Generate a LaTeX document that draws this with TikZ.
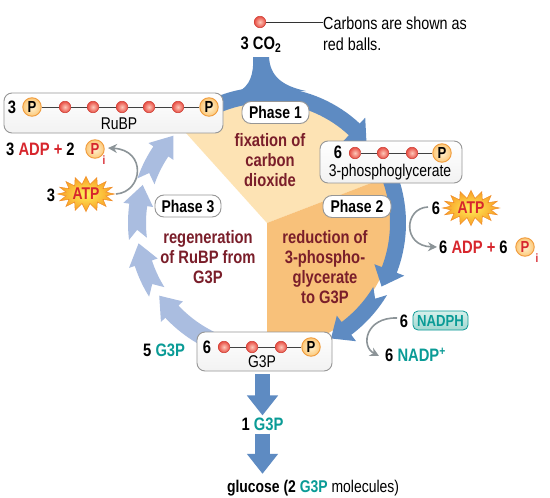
\documentclass[tikz,border=0pt]{standalone}
\usepackage{fontspec}
\setmainfont{Liberation Sans}[FakeStretch=0.82]
\usetikzlibrary{shapes.symbols,arrows.meta,calc}

\definecolor{darkblue}{RGB}{94,139,194}
\definecolor{lightblue}{RGB}{170,189,224}
\definecolor{lorange}{RGB}{253,227,180}
\definecolor{dorange}{RGB}{248,193,122}
\definecolor{maroon}{RGB}{122,30,42}
\definecolor{atpred}{RGB}{215,38,45}
\definecolor{tealc}{RGB}{10,155,150}
\definecolor{boxgray}{RGB}{150,150,150}
\definecolor{arrgray}{RGB}{140,148,152}
\definecolor{ballin}{RGB}{253,200,185}
\definecolor{ballout}{RGB}{232,78,68}
\definecolor{ballrim}{RGB}{205,60,50}
\definecolor{pin}{RGB}{255,242,210}
\definecolor{pout}{RGB}{252,200,120}
\definecolor{prim}{RGB}{240,155,60}
\definecolor{starin}{RGB}{255,240,90}
\definecolor{starout}{RGB}{248,155,35}
\definecolor{starrim}{RGB}{240,140,40}
\definecolor{nadin}{RGB}{215,240,235}
\definecolor{nadout}{RGB}{160,215,208}

% #1 colour, #2 tail angle, #3 tip angle, #4 radius, #5 half width, #6 head half width, #7 head length (deg), #8 notch (deg)
\newcommand\arcarrow[8]{%
  \pgfmathsetmacro\aaHB{#3+#7}%
  \pgfmathsetmacro\aaRO{#4+#5}%
  \pgfmathsetmacro\aaRI{#4-#5}%
  \pgfmathsetmacro\aaHO{#4+#6}%
  \pgfmathsetmacro\aaHI{#4-#6}%
  \pgfmathsetmacro\aaNT{#2-#8}%
  \fill[#1] plot[domain=#2:\aaHB, samples=30] ({\cx+\aaRO*cos(\x)},{\cy-\aaRO*sin(\x)})
    -- ({\cx+\aaHO*cos(\aaHB)},{\cy-\aaHO*sin(\aaHB)})
    -- ({\cx+#4*cos(#3)},{\cy-#4*sin(#3)})
    -- ({\cx+\aaHI*cos(\aaHB)},{\cy-\aaHI*sin(\aaHB)})
    -- plot[domain=\aaHB:#2, samples=30] ({\cx+\aaRI*cos(\x)},{\cy-\aaRI*sin(\x)})
    -- ({\cx+#4*cos(\aaNT)},{\cy-#4*sin(\aaNT)}) -- cycle;%
}

\begin{document}
\begin{tikzpicture}[x=1pt,y=-1pt,
  txt/.style={font=\fontsize{17}{21}\selectfont, inner sep=0pt},
  btxt/.style={font=\bfseries\fontsize{18}{21}\selectfont, inner sep=0pt},
  phtxt/.style={font=\bfseries\fontsize{18}{20}\selectfont, text=maroon, align=center, inner sep=0pt},
  molbox/.style={draw=boxgray, line width=0.9pt, rounded corners=8pt, top color=white, bottom color=black!5, inner sep=0pt},
  phasebox/.style={draw=boxgray, line width=0.9pt, rounded corners=9pt, fill=white, inner sep=0pt, minimum height=22pt, font=\bfseries\fontsize{17}{17}\selectfont},
  redball/.style={circle, minimum size=11.5pt, inner sep=0pt, inner color=ballin, outer color=ballout, draw=ballrim, line width=0.5pt},
  pcirc/.style={circle, minimum size=18.5pt, inner sep=0pt, inner color=pin, outer color=pout, draw=prim, line width=0.9pt, font=\bfseries\fontsize{16}{16}\selectfont},
  chainln/.style={draw=black!75, line width=0.9pt},
  atpstar/.style={starburst, starburst points=16, starburst point height=8pt, random starburst=0, inner color=starin, outer color=starout, draw=starrim, line width=0.5pt, font=\bfseries\fontsize{17}{17}\selectfont, text=atpred, inner sep=1pt},
  nadbox/.style={draw=tealc, line width=0.8pt, rounded corners=5pt, top color=nadin, bottom color=nadout, text=tealc, inner sep=0pt, minimum width=55pt, minimum height=19pt, font=\bfseries\fontsize{16}{16}\selectfont},
  grayarr/.style={draw=arrgray, line width=1.6pt, -{Stealth[length=9pt,width=9pt]}},
  downarr/.style={draw=darkblue, line width=15pt, -{Triangle[length=20pt,width=30pt]}},
]
\useasboundingbox (0,0) rectangle (550,498);
\fill[white] (0,0) rectangle (550,498);
\def\cx{267}\def\cy{223}

% sectors
\fill[lorange] (\cx,\cy) -- plot[domain=21:132, samples=40] ({\cx+126*cos(\x)},{\cy-126*sin(\x)}) -- cycle;
\fill[dorange] (\cx,\cy) -- plot[domain=-90:21, samples=40] ({\cx+126*cos(\x)},{\cy-126*sin(\x)}) -- cycle;

% cycle arrows
\arcarrow{lightblue}{247}{214}{130}{9}{15}{9}{4}
\arcarrow{lightblue}{212}{189}{130}{9}{15}{9}{4}
\arcarrow{lightblue}{187}{163}{130}{9}{15}{9}{4}
\arcarrow{lightblue}{161}{137}{128}{9}{15}{9}{4}
\arcarrow{darkblue}{118}{39}{128}{8}{16}{8}{0}
\arcarrow{darkblue}{22}{-29}{131}{8}{16}{8}{0}
\arcarrow{darkblue}{-31}{-61}{132}{8}{16}{8}{4}
% CO2 inflow
\fill[darkblue] (253,57) -- (269,57) .. controls (270,76) and (282,86) .. (306,91) -- (238,92) .. controls (250,86) and (254,74) .. (253,57) -- cycle;

% top legend
\node[redball] (legball) at (260,22) {};
\node[txt, anchor=west, align=left, font=\fontsize{17.5}{21}\selectfont] (legend) at (323,34) {Carbons are shown as\\red balls.};
\draw[black!80, line width=0.8pt] (legball) -- (legend.west |- legball);
\node[btxt] (co2) at (261,45) {3 CO\textsubscript{2}};

% RuBP box
\node[molbox, minimum width=219pt, minimum height=40pt] (rubpbox) at (113.5,113) {};
\node[btxt] (n3a) at (12,107) {3};
\node[pcirc] (r0) at (32,107) {P};
\foreach \i/\xx in {1/65,2/93,3/122,4/149,5/178} \node[redball] (r\i) at (\xx,107) {};
\node[pcirc] (r6) at (209,107) {P};
\foreach \a/\b in {0/1,1/2,2/3,3/4,4/5,5/6} \draw[chainln] (r\a) -- (r\b);
\node[txt] (rubplab) at (119,124) {RuBP};

% 3-phosphoglycerate box
\node[molbox, minimum width=142pt, minimum height=42pt] (pgabox) at (391,162) {};
\node[btxt] (n6a) at (338,152.5) {6};
\foreach \i/\xx in {1/355,2/383,3/412} \node[redball] (g\i) at (\xx,153) {};
\node[pcirc] (g4) at (442,153) {P};
\foreach \a/\b in {1/2,2/3,3/4} \draw[chainln] (g\a) -- (g\b);
\node[txt] (pgalab) at (390,172) {3-phosphoglycerate};

% G3P box
\node[molbox, minimum width=135pt, minimum height=39pt] (g3pbox) at (264.5,351.5) {};
\node[btxt] (n6b) at (207,347) {6};
\foreach \i/\xx in {1/224,2/252,3/281} \node[redball] (h\i) at (\xx,347) {};
\node[pcirc] (h4) at (311,347) {P};
\foreach \a/\b in {1/2,2/3,3/4} \draw[chainln] (h\a) -- (h\b);
\node[txt] (g3plab) at (262,362) {G3P};

% phase labels
\node[phasebox, minimum width=67pt] (ph1) at (275.5,112.5) {Phase 1};
\node[phasebox, minimum width=68pt] (ph2) at (357,206.5) {Phase 2};
\node[phasebox, minimum width=66pt] (ph3) at (188,206) {Phase 3};
\node[phtxt] (t1) at (270,160) {fixation of\\carbon\\dioxide};
\node[phtxt] (t3) at (208,257) {regeneration\\of RuBP from\\G3P};
\node[phtxt] (t2) at (325,267) {reduction of\\3-phospho-\\glycerate\\to G3P};

% left: ADP, ATP
\node[btxt, anchor=west] (adp3) at (6,149) {3 \textcolor{atpred}{ADP +} 2};
\node[pcirc, text=atpred] (pi3) at (95,149) {P};
\node[text=atpred, inner sep=0pt, font=\bfseries\fontsize{12}{12}\selectfont] (pi3i) at (104,160) {i};
\node[btxt] (n3b) at (51,195) {3};
\node[atpstar, minimum width=54pt, minimum height=34pt] (atp3) at (86,194) {ATP};
\coordinate (ga1s) at (116,194);
\coordinate (ga1e) at (108,148);
\draw[grayarr] (ga1s) .. controls (143,192) and (147,150) .. (ga1e);

% right: ATP, ADP
\node[btxt] (n6c) at (436,208) {6};
\node[atpstar, minimum width=50pt, minimum height=31pt] (atp6) at (471,208) {ATP};
\node[btxt, anchor=west] (adp6) at (439,247) {6 \textcolor{atpred}{ADP +} 6};
\node[pcirc, text=atpred] (pi6) at (525,247) {P};
\node[text=atpred, inner sep=0pt, font=\bfseries\fontsize{12}{12}\selectfont] (pi6i) at (537,258) {i};
\coordinate (ga2s) at (428,207);
\coordinate (ga2e) at (437,247);
\draw[grayarr] (ga2s) .. controls (404,208) and (402,246) .. (ga2e);

% NADPH
\node[btxt] (n6d) at (404,321) {6};
\node[nadbox] (nadph) at (440.5,320.5) {NADPH};
\node[btxt, anchor=west] (nadp) at (385,355) {6 \textcolor{tealc}{NADP\textsuperscript{+}}};
\coordinate (ga3s) at (397,318);
\coordinate (ga3e) at (379,356);
\draw[grayarr] (ga3s) .. controls (366,317) and (360,346) .. (ga3e);

% outputs
\node[btxt, anchor=west] (g3p5) at (143,350) {5 \textcolor{tealc}{G3P}};
\node[btxt] (g3p1) at (262.5,424) {1 \textcolor{tealc}{G3P}};
\node[txt] (gluc) at (313,488) {\bfseries glucose (2 \textcolor{tealc}{G3P} \mdseries molecules)};
\draw[downarr] ([yshift=-3pt]g3pbox.south -| g3p1) -- ([yshift=2pt]g3p1.north);
\draw[downarr] ([yshift=-3pt]g3p1.south) -- ([yshift=6pt]gluc.north -| g3p1);
\end{tikzpicture}
\end{document}
